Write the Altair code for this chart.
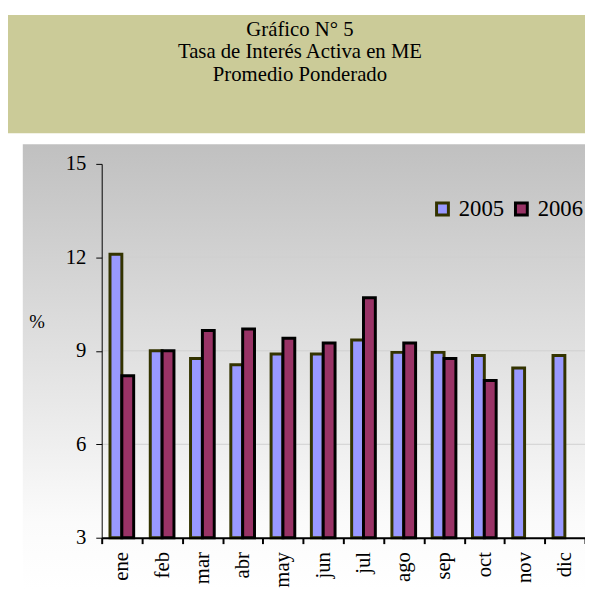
import altair as alt
import pandas as pd

# ---- data ----
months = ["ene", "feb", "mar", "abr", "may", "jun", "jul", "ago", "sep", "oct", "nov", "dic"]
rate_2005 = [12.1, 9.0, 8.75, 8.55, 8.9, 8.9, 9.35, 8.95, 8.95, 8.85, 8.45, 8.85]
rate_2006 = [8.2, 9.0, 9.65, 9.7, 9.4, 9.25, 10.7, 9.25, 8.75, 8.05, None, None]
years = ["2005", "2006"]
y_ticks = [3, 6, 9, 12, 15]
grid_values = [6, 9, 12]
title_lines = ["Gráfico N° 5", "Tasa de Interés Activa en ME", " Promedio Ponderado"]
y_title = "%"

rows = []
for m, a, b in zip(months, rate_2005, rate_2006):
    if a is not None:
        rows.append({"mes": m, "año": years[0], "valor": a})
    if b is not None:
        rows.append({"mes": m, "año": years[1], "valor": b})
df = pd.DataFrame(rows)

SERIF = "Liberation Serif, Times New Roman, DejaVu Serif, serif"
W, H = 490, 379

x_enc = alt.X("mes:N", sort=months,
              scale=alt.Scale(domain=months, paddingInner=0, paddingOuter=0),
              axis=alt.Axis(title=None, labelAngle=270, tickBand="extent",
                            labelFont=SERIF, labelFontSize=21, labelColor="black",
                            labelPadding=8, tickSize=6, tickWidth=2, tickColor="black",
                            domainColor="black", domainWidth=2, grid=False, zindex=1))
y_scale = alt.Scale(domain=[3, 15], nice=False, zero=False)

one = pd.DataFrame({"k": [0]})

header = alt.Chart(one).mark_rect(color="#cbcb98").encode(
    x=alt.value(-95), x2=alt.value(W), y=alt.value(-151), y2=alt.value(-31))

grey = alt.Chart(one).mark_rect(
    fill=alt.Gradient(gradient="linear", x1=0, y1=0, x2=0, y2=1,
                      stops=[alt.GradientStop(offset=0, color="#c0c0c0"),
                             alt.GradientStop(offset=0.85, color="#fbfbfb"),
                             alt.GradientStop(offset=1, color="#ffffff")])
).encode(x=alt.value(-80), x2=alt.value(W), y=alt.value(-20), y2=alt.value(431))

titles = [
    alt.Chart(one).mark_text(text=t, font=SERIF, fontSize=21, color="black",
                             align="center", baseline="alphabetic").encode(
        x=alt.value(201), y=alt.value(-130 + 23 * i))
    for i, t in enumerate(title_lines)
]

grid = alt.Chart(pd.DataFrame({"g": grid_values})).mark_rule(
    color="#cfcfcf", strokeWidth=1).encode(
    y=alt.Y("g:Q", scale=y_scale), x=alt.value(0), x2=alt.value(W))

legend = alt.Legend(title=None, orient="none", legendX=334, legendY=34,
                    direction="horizontal", symbolType="square",
                    symbolSize=144, symbolStrokeWidth=3,
                    labelFont=SERIF, labelFontSize=23, labelColor="black",
                    labelOffset=5, columnPadding=5, padding=0)

bars = alt.Chart(df).mark_bar(strokeWidth=3, strokeJoin="miter").encode(
    x=x_enc,
    xOffset=alt.XOffset("año:N", scale=alt.Scale(domain=years, paddingInner=0, paddingOuter=0.7)),
    y=alt.Y("valor:Q", scale=y_scale,
            axis=alt.Axis(values=y_ticks, grid=False, title=y_title, titleAngle=0,
                          titleX=-66, titleY=160, titleAlign="center", titleBaseline="middle",
                          titleFont=SERIF, titleFontSize=19, titleFontWeight="normal",
                          titleColor="black",
                          labelFont=SERIF, labelFontSize=21, labelColor="black",
                          labelPadding=10, tickSize=6, tickColor="black",
                          domainColor="black", zindex=1)),
    y2=alt.datum(3),
    fill=alt.Fill("año:N", scale=alt.Scale(domain=years, range=["#9999ff", "#993366"]),
                  legend=legend),
    stroke=alt.Stroke("año:N", scale=alt.Scale(domain=years, range=["#333300", "#000000"]),
                      legend=legend),
)

chart = alt.layer(header, grey, *titles, grid, bars).properties(
    width=W, height=H,
    autosize=alt.AutoSizeParams(type="none"),
    padding={"left": 95, "top": 154, "right": 0, "bottom": 52},
    background="white",
).configure_view(stroke=None)

chart.save("out.html", embed_options={"renderer": "svg", "actions": False})
